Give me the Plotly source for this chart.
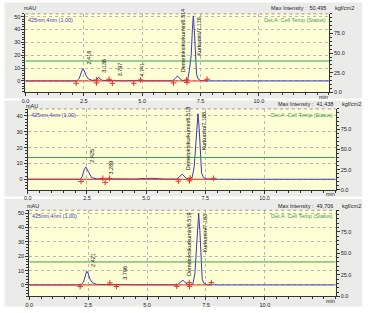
import plotly.graph_objects as go

W, H = 392, 313

# ---------------- data ----------------
p1_time = [0.0, 2.2, 2.3, 2.38, 2.45, 2.52, 2.6, 2.7, 2.85, 3.0, 3.06, 3.13, 3.2, 3.3, 3.5, 3.75, 3.8, 3.85,
           4.2, 4.7, 4.75, 4.8, 5.0, 6.3, 6.42, 6.5, 6.58, 6.7, 6.85, 6.95, 7.02, 7.06, 7.1, 7.15, 7.19,
           7.23, 7.28, 7.33, 7.4, 7.5, 7.7, 8.0, 13.0]
p1_mau = [0.0, 0.0, 2.0, 7.0, 9.5, 8.0, 4.0, 1.5, 0.5, 0.3, 1.2, 3.0, 1.5, 0.4, 0.2, 0.3, 0.6, 0.3,
          0.1, 0.3, 0.6, 0.3, 0.1, 0.1, 2.0, 3.8, 2.5, 0.5, 0.2, 1.0, 8.0, 13.0, 20.0, 40.0, 50.5,
          40.0, 18.0, 5.0, 1.5, 0.4, 0.1, 0.0, 0.0]
p1_label_text = ["2.418", "3.136", "3.797", "4.741", "Demetoksikurkumin/6.514", "Kurkumin/7.178"]
p1_label_rt = [2.45, 3.13, 3.8, 4.75, 6.5, 7.19]
p1_label_h = [9.5, 3.0, 0.6, 0.6, 3.8, 50.5]
p1_mark_t = [2.17, 3.04, 3.04, 3.58, 3.72, 4.64, 4.93, 6.34, 6.9, 6.92, 7.78]
p1_mark_y = [-1.8, -1.5, 0.8, 1.3, -1.8, -1.8, 0.8, -1.5, 0.8, -1.2, 1.3]
p1_max = "50,495"

p2_time = [0.0, 2.2, 2.3, 2.38, 2.45, 2.52, 2.6, 2.7, 2.9, 3.2, 3.27, 3.35, 3.6, 4.6, 4.8, 5.0, 5.2,
           5.4, 5.6, 5.8, 6.3, 6.42, 6.52, 6.6, 6.72, 6.85, 6.95, 7.03, 7.08, 7.14, 7.19, 7.24, 7.29,
           7.34, 7.42, 7.55, 8.0, 13.0]
p2_mau = [0.0, 0.0, 1.5, 6.0, 7.8, 6.0, 3.0, 1.0, 0.3, 0.2, 0.6, 0.3, 0.1, 0.1, 0.5, 0.3, 0.6,
          0.4, 0.5, 0.1, 0.1, 1.5, 3.2, 2.0, 0.4, 0.2, 1.5, 8.0, 20.0, 36.0, 41.4, 32.0, 14.0,
          4.0, 1.0, 0.2, 0.0, 0.0]
p2_label_text = ["2.425", "3.289", "Demetoksikurkumin/6.518", "Kurkumin/7.188"]
p2_label_rt = [2.45, 3.27, 6.52, 7.19]
p2_label_h = [7.8, 0.6, 3.2, 41.4]
p2_mark_t = [2.25, 3.17, 3.27, 3.45, 6.36, 6.83, 6.86, 7.85]
p2_mark_y = [-1.4, 0.6, -2.0, 0.6, -1.2, -1.0, 0.8, 0.6]
p2_max = "41,438"

p3_time = [0.0, 2.2, 2.3, 2.38, 2.44, 2.5, 2.58, 2.68, 2.85, 3.4, 3.75, 3.8, 3.86, 4.5, 6.3, 6.42,
           6.52, 6.6, 6.72, 6.85, 6.95, 7.03, 7.08, 7.14, 7.19, 7.24, 7.29, 7.34, 7.42, 7.55, 8.0, 13.0]
p3_mau = [0.0, 0.0, 2.0, 7.0, 9.6, 8.0, 4.0, 1.5, 0.4, 0.2, 0.3, 0.7, 0.3, 0.1, 0.1, 2.0,
          3.3, 2.0, 0.4, 0.2, 1.0, 8.0, 22.0, 42.0, 49.7, 38.0, 15.0, 4.0, 1.0, 0.2, 0.0, 0.0]
p3_label_text = ["2.421", "3.796", "Demetoksikurkumin/6.519", "Kurkumin/7.183"]
p3_label_rt = [2.44, 3.8, 6.52, 7.19]
p3_label_h = [9.6, 0.7, 3.3, 49.7]
p3_mark_t = [2.16, 3.42, 3.7, 6.26, 6.79, 6.8, 7.73]
p3_mark_y = [-1.1, 1.4, -1.1, -1.0, 1.6, -1.0, 1.6]
p3_max = "49,706"

cell_temp = [40.0, 40.0, 40.0]
channel_name = "425nm,4nm (1.00)"
x_ticks = [0.0, 2.5, 5.0, 7.5, 10.0]

# ---------------- layout geometry (pixels) ----------------
panels = [
    dict(t=p1_time, v=p1_mau, lt=p1_label_text, lr=p1_label_rt, lh=p1_label_h,
         mt=p1_mark_t, my=p1_mark_y, mx=p1_max,
         L=21.7, R=328.3, T=14.0, B=93.3, ymin=-8.9, ymax=52.1, gT=2.5, gB=99.5, hy=8.5, uy=8.5),
    dict(t=p2_time, v=p2_mau, lt=p2_label_text, lr=p2_label_rt, lh=p2_label_h,
         mt=p2_mark_t, my=p2_mark_y, mx=p2_max,
         L=24.0, R=335.0, T=110.0, B=191.7, ymin=-6.7, ymax=44.4, gT=101.5, gB=198.5, hy=105.5, uy=107.0),
    dict(t=p3_time, v=p3_mau, lt=p3_label_text, lr=p3_label_rt, lh=p3_label_h,
         mt=p3_mark_t, my=p3_mark_y, mx=p3_max,
         L=25.5, R=335.0, T=212.3, B=299.3, ymin=-8.0, ymax=52.0, gT=201.0, gB=309.5, hy=207.5, uy=207.5),
]

def px(x):
    return x / W

def py(y):
    return 1 - y / H

FONT = "Liberation Sans"
BLUE = "#3b3bbd"
RED = "#e2322a"
GREEN = "#3a9e5c"
AXC = "#333333"

fig = go.Figure()
layout = dict(
    width=W, height=H, margin=dict(l=0, r=0, t=0, b=0),
    paper_bgcolor="white", plot_bgcolor="rgba(0,0,0,0)",
    showlegend=False, font=dict(family=FONT, size=5.5, color="#222"),
)
shapes = []
annotations = []

for i, p in enumerate(panels):
    n = i + 1
    xa = "x" if n == 1 else f"x{n}"
    ya = "y" if n == 1 else f"y{n}"
    yr = f"y{n + 3}"
    xkey = "xaxis" if n == 1 else f"xaxis{n}"
    ykey = "yaxis" if n == 1 else f"yaxis{n}"
    yrkey = f"yaxis{n + 3}"

    shapes.append(dict(type="rect", xref="paper", yref="paper", layer="below",
                       x0=px(0.5), x1=px(362), y0=py(p["gB"]), y1=py(p["gT"]),
                       fillcolor="#ebebe9", line=dict(width=0)))
    shapes.append(dict(type="rect", xref="paper", yref="paper", layer="below",
                       x0=px(p["L"]), x1=px(p["R"]), y0=py(p["B"]), y1=py(p["T"]),
                       fillcolor="#fefed4", line=dict(width=0)))
    shapes.append(dict(type="line", xref="paper", yref="paper", layer="above",
                       x0=px(p["L"]), x1=px(p["R"]), y0=py(p["T"]), y1=py(p["T"]),
                       line=dict(color="#999999", width=1, dash="dot")))

    fig.add_trace(go.Scatter(x=p["t"], y=p["v"], mode="lines", xaxis=xa, yaxis=ya,
                             line=dict(color=BLUE, width=1)))
    fig.add_trace(go.Scatter(x=[0.0, max(p["mt"])], y=[0.0, 0.0], mode="lines", xaxis=xa, yaxis=ya,
                             line=dict(color=RED, width=1)))
    fig.add_trace(go.Scatter(x=p["mt"], y=p["my"], mode="markers", xaxis=xa, yaxis=ya,
                             marker=dict(symbol="cross-thin", size=4, line=dict(color=RED, width=1),
                                         color=RED)))
    fig.add_trace(go.Scatter(x=[0.0, 13.0], y=[cell_temp[i], cell_temp[i]], mode="lines",
                             xaxis=xa, yaxis=yr, line=dict(color=GREEN, width=1)))

    layout[xkey] = dict(
        domain=[px(p["L"]), px(p["R"])], anchor=ya, range=[0, 13.0],
        tickvals=x_ticks, ticktext=[f"{v:.1f}" for v in x_ticks],
        ticks="outside", ticklen=3, tickcolor=AXC, showline=True, linecolor=AXC, linewidth=1,
        showgrid=True, gridcolor="#b8b8b8", griddash="dot", gridwidth=1, zeroline=False,
        minor=dict(dtick=0.5, tick0=0, ticks="outside", ticklen=2, tickcolor=AXC, showgrid=False),
        tickfont=dict(size=5.5, family=FONT, color="#222"), fixedrange=True,
    )
    layout[ykey] = dict(
        domain=[py(p["B"]), py(p["T"])], anchor=xa, range=[p["ymin"], p["ymax"]],
        dtick=10, tick0=0, ticks="outside", ticklen=3, tickcolor=AXC,
        showline=True, linecolor=AXC, linewidth=1,
        showgrid=True, gridcolor="#b8b8b8", griddash="dot", gridwidth=1, zeroline=False,
        minor=dict(dtick=2, tick0=0, ticks="outside", ticklen=2, tickcolor=AXC, showgrid=False),
        tickfont=dict(size=5.5, family=FONT, color="#222"), fixedrange=True,
    )
    layout[yrkey] = dict(
        overlaying=ya, side="right", anchor=xa, range=[0, 100],
        tickvals=[0, 25, 50, 75], ticktext=["0.0", "25.0", "50.0", "75.0"],
        ticks="outside", ticklen=3, tickcolor=AXC, showline=True, linecolor=AXC, linewidth=1,
        showgrid=False, zeroline=False,
        minor=dict(dtick=5, tick0=0, ticks="outside", ticklen=2, tickcolor=AXC),
        tickfont=dict(size=5.5, family=FONT, color="#222"), fixedrange=True,
    )

    for txt, rt, h in zip(p["lt"], p["lr"], p["lh"]):
        if h > 0.6 * p["ymax"]:
            annotations.append(dict(x=rt, y=p["ymax"], xref=xa, yref=ya, text=txt, textangle=-90,
                                    showarrow=False, xanchor="left", yanchor="top", xshift=1, yshift=-1,
                                    font=dict(size=5.5, family=FONT, color="#111")))
        else:
            annotations.append(dict(x=rt, y=h, xref=xa, yref=ya, text=txt, textangle=-90,
                                    showarrow=False, xanchor="left", yanchor="bottom", xshift=1, yshift=2,
                                    font=dict(size=5.5, family=FONT, color="#111")))

    annotations.append(dict(x=px(p["R"] - 1), y=py(p["hy"]), xref="paper", yref="paper",
                            text=f"Max Intensity :  {p['mx']}", showarrow=False,
                            xanchor="right", yanchor="middle", font=dict(size=5.5, family=FONT, color="#222")))
    annotations.append(dict(x=px(p["R"] + 4), y=py(p["hy"]), xref="paper", yref="paper",
                            text="kgf/cm2", showarrow=False,
                            xanchor="left", yanchor="middle", font=dict(size=5.5, family=FONT, color="#222")))
    annotations.append(dict(x=px(p["R"] - 1), y=py(p["T"] + 1), xref="paper", yref="paper",
                            text="Det.A  Cell Temp (Status)", showarrow=False,
                            xanchor="right", yanchor="top", font=dict(size=5.5, family=FONT, color=GREEN)))
    annotations.append(dict(x=px(p["L"] + 1), y=py(p["T"] + 1), xref="paper", yref="paper",
                            text=channel_name, showarrow=False,
                            xanchor="left", yanchor="top", font=dict(size=5.5, family=FONT, color=BLUE)))
    annotations.append(dict(x=px(p["L"] - 4), y=py(p["uy"]), xref="paper", yref="paper",
                            text="mAU", showarrow=False,
                            xanchor="left", yanchor="middle", font=dict(size=5.5, family=FONT, color="#222")))
    annotations.append(dict(x=12.78, y=py(p["B"] + 4.5), xref=xa, yref="paper",
                            text="min", showarrow=False,
                            xanchor="center", yanchor="middle", font=dict(size=5.5, family=FONT, color="#222")))

layout["shapes"] = shapes
layout["annotations"] = annotations
fig.update_layout(**layout)
fig.write_html("out.html", config={"displayModeBar": False})
